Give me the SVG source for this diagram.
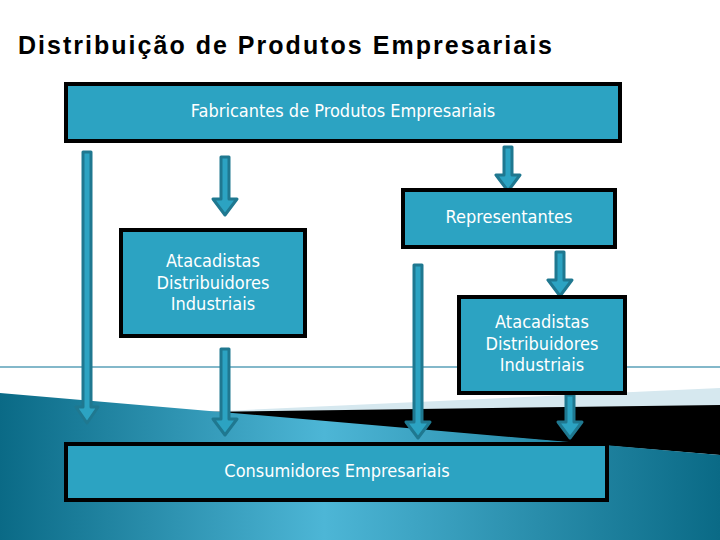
<svg xmlns="http://www.w3.org/2000/svg" width="720" height="540" viewBox="0 0 720 540">
<defs>
<linearGradient id="bg" x1="0" y1="0" x2="1" y2="0">
<stop offset="0" stop-color="#0a6a86"/><stop offset="0.45" stop-color="#4db6d6"/><stop offset="1" stop-color="#0a6a86"/>
</linearGradient>
<style>
.box{fill:#2ca3c2;stroke:#000;stroke-width:4}
.t{font-family:"DejaVu Sans Condensed","DejaVu Sans",sans-serif;font-size:18px;fill:#fff;text-anchor:middle}
.arr{fill:#2ca3c2;stroke:#1f7890;stroke-width:3;stroke-linejoin:round}
</style>
</defs>
<rect width="720" height="540" fill="#fff"/>
<line x1="0" y1="367" x2="720" y2="367" stroke="#5aa0b8" stroke-width="1.5"/>
<polygon points="200,412 720,388 720,408 400,418" fill="#d6e8ef"/>
<polygon points="200,412 720,405 720,455" fill="#000"/>
<polygon points="0,393 720,455 720,540 0,540" fill="url(#bg)"/>
<text x="18" y="54" font-family="Liberation Sans,Arial,sans-serif" font-weight="bold" font-size="25" textLength="534" fill="#000">Distribuição de Produtos Empresariais</text>
<g id="connectors">
<path class="arr" d="M83,152 h8 v255 h7 l-11,16 l-11,-16 h7 z"/>
<path class="arr" d="M221,157 h8 v42 h8 l-12,16 l-12,-16 h8 z"/>
<path class="arr" d="M504,147 h8 v28 h8 l-12,16 l-12,-16 h8 z"/>
<path class="arr" d="M556,252 h8 v28 h8 l-12,16 l-12,-16 h8 z"/>
<path class="arr" d="M221,349 h8 v70 h8 l-12,16 l-12,-16 h8 z"/>
<path class="arr" d="M414,265 h8 v157 h8 l-12,16 l-12,-16 h8 z"/>
<path class="arr" d="M566,395 h8 v27 h8 l-12,16 l-12,-16 h8 z"/>
</g>
<g id="fabricantes"><rect class="box" x="66" y="84" width="554" height="57"/><text class="t" x="343" y="117">Fabricantes de Produtos Empresariais</text></g>
<g id="representantes"><rect class="box" x="403" y="190" width="212" height="57"/><text class="t" x="509" y="223">Representantes</text></g>
<g id="atacadistas1"><rect class="box" x="121" y="230" width="184" height="106"/><text class="t" x="213" y="267">Atacadistas</text><text class="t" x="213" y="289">Distribuidores</text><text class="t" x="213" y="310">Industriais</text></g>
<g id="atacadistas2"><rect class="box" x="459" y="297" width="166" height="96"/><text class="t" x="542" y="328">Atacadistas</text><text class="t" x="542" y="350">Distribuidores</text><text class="t" x="542" y="371">Industriais</text></g>
<g id="consumidores"><rect class="box" x="66" y="444" width="541" height="56"/><text class="t" x="337" y="477">Consumidores Empresariais</text></g>
</svg>
